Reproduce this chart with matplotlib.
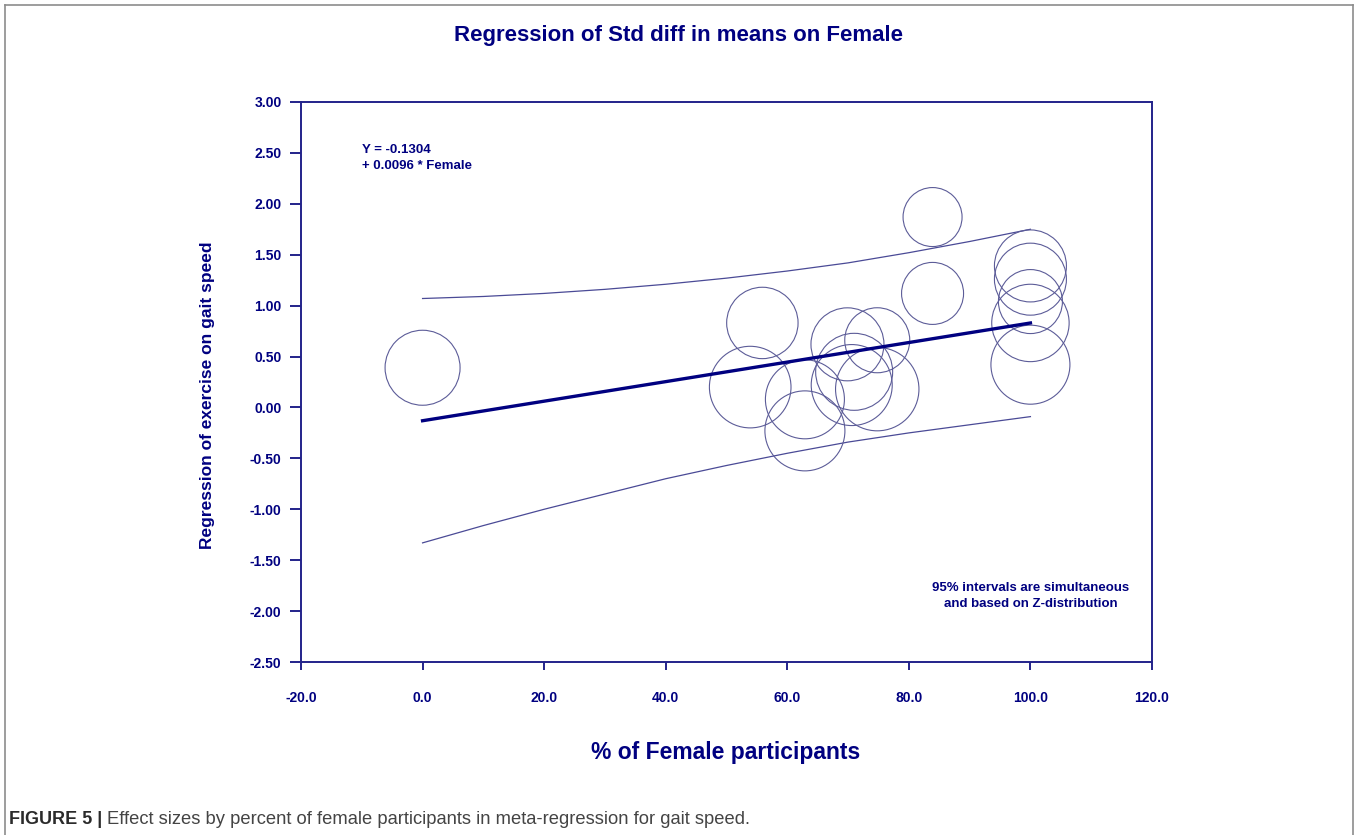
import numpy as np
import matplotlib
matplotlib.use('Agg')
import matplotlib.pyplot as plt
from matplotlib.lines import Line2D

# study effect sizes vs % female participants
pct_female = [0, 55.9, 53.9, 62.9, 62.9, 69.9, 74.8, 71.0, 70.6, 74.8, 83.9, 83.9,
              100, 100, 100, 100, 100]
std_diff = [0.39, 0.83, 0.20, 0.08, -0.23, 0.62, 0.66, 0.35, 0.22, 0.18, 1.87, 1.12,
            1.39, 1.26, 1.04, 0.83, 0.42]
# relative study weights (drawn as circle size)
weights = [37.5, 35.7, 40.8, 39.5, 40.0, 36.5, 32.5, 38.5, 40.5, 41.7, 29.5, 31.0,
           36.0, 36.0, 32.0, 38.7, 39.5]

intercept = -0.1304
slope = 0.0096

# simultaneous 95% band
ci_x = [0, 10, 20, 30, 40, 50, 60, 70, 80, 90, 100]
ci_upper = [1.07, 1.09, 1.12, 1.16, 1.21, 1.27, 1.34, 1.42, 1.52, 1.63, 1.75]
ci_lower = [-1.33, -1.16, -1.00, -0.85, -0.70, -0.57, -0.45, -0.34, -0.25, -0.17, -0.09]

yticks = [3.0, 2.5, 2.0, 1.5, 1.0, 0.5, 0.0, -0.5, -1.0, -1.5, -2.0, -2.5]
xticks = [-20, 0, 20, 40, 60, 80, 100, 120]

navy = '#000080'
axcol = '#22228a'
circ = '#5c5c98'
fam = ['Liberation Sans', 'DejaVu Sans']

fig = plt.figure(figsize=(13.58, 8.35), dpi=100)
ax = fig.add_axes([301/1358, 1 - 662/835, 851/1358, 560/835])

# circles: weight -> radius in pixels -> marker size in points^2
sizes = [(2 * w * 72 / 100) ** 2 for w in weights]
ax.scatter(pct_female, std_diff, s=sizes, facecolors='none', edgecolors=circ,
           linewidths=0.8, zorder=3)

xs = np.array([0, 100])
ax.plot(xs, intercept + slope * xs, color=navy, lw=2.4, zorder=4)
ax.plot(ci_x, ci_upper, color='#4a4a96', lw=0.9, zorder=2)
ax.plot(ci_x, ci_lower, color='#4a4a96', lw=0.9, zorder=2)

ax.set_xlim(-20, 120)
ax.set_ylim(-2.5, 3.0)
ax.set_xticks(xticks)
ax.set_xticklabels(['%.1f' % v for v in xticks])
ax.set_yticks(yticks)
ax.set_yticklabels(['%.2f' % v for v in yticks])

for s in ax.spines.values():
    s.set_color(axcol)
    s.set_linewidth(1.4)
ax.tick_params(axis='y', direction='out', length=8, width=1.4, color=axcol, pad=6)
ax.tick_params(axis='x', direction='out', length=6, width=1.4, color=axcol, pad=15)
for lab in ax.get_yticklabels() + ax.get_xticklabels():
    lab.set_fontfamily(fam)
    lab.set_fontweight('bold')
    lab.set_fontsize(10)
    lab.set_color(navy)

ax.text(-10.0, 2.59, 'Y = -0.1304\n+ 0.0096 * Female', ha='left', va='top',
        fontsize=9.5, fontweight='bold', color=navy, family=fam, linespacing=1.45)
ax.text(100, -1.85, '95% intervals are simultaneous\nand based on Z-distribution',
        ha='center', va='center', fontsize=9.5, fontweight='bold', color=navy,
        family=fam, linespacing=1.45)

fig.text(0.4993, 1 - 36/835, 'Regression of Std diff in means on Female', ha='center',
         va='center', fontsize=16, fontweight='bold', color=navy, family=fam)
fig.text(207/1358, 1 - 395/835, 'Regression of exercise on gait speed', rotation=90,
         ha='center', va='center', fontsize=12.5, fontweight='bold', color=navy, family=fam)
fig.text(726/1358, 1 - 752/835, '% of Female participants', ha='center', va='center',
         fontsize=16.5, fontweight='bold', color=navy, family=fam)

# outer frame
frame_col = '#8c8c8c'
for (x0, y0, x1, y1) in [(5, 5, 5, 835), (5, 5, 1353, 5), (1353, 5, 1353, 835)]:
    fig.add_artist(Line2D([x0/1358, x1/1358], [1 - y0/835, 1 - y1/835],
                          transform=fig.transFigure, color=frame_col, lw=1.2))

# caption
cap_y = 1 - 820/835
t1 = fig.text(9/1358, cap_y, 'FIGURE 5 | ', ha='left', va='center', fontsize=13,
              fontweight='bold', color='#2b2b2b', family=fam)
fig.canvas.draw()
bb = t1.get_window_extent(fig.canvas.get_renderer())
fig.text(bb.x1 / fig.bbox.width, cap_y,
         'Effect sizes by percent of female participants in meta-regression for gait speed.',
         ha='left', va='center', fontsize=13.2, color='#444444', family=fam)

fig.savefig('out.png', dpi=100, facecolor='white')
